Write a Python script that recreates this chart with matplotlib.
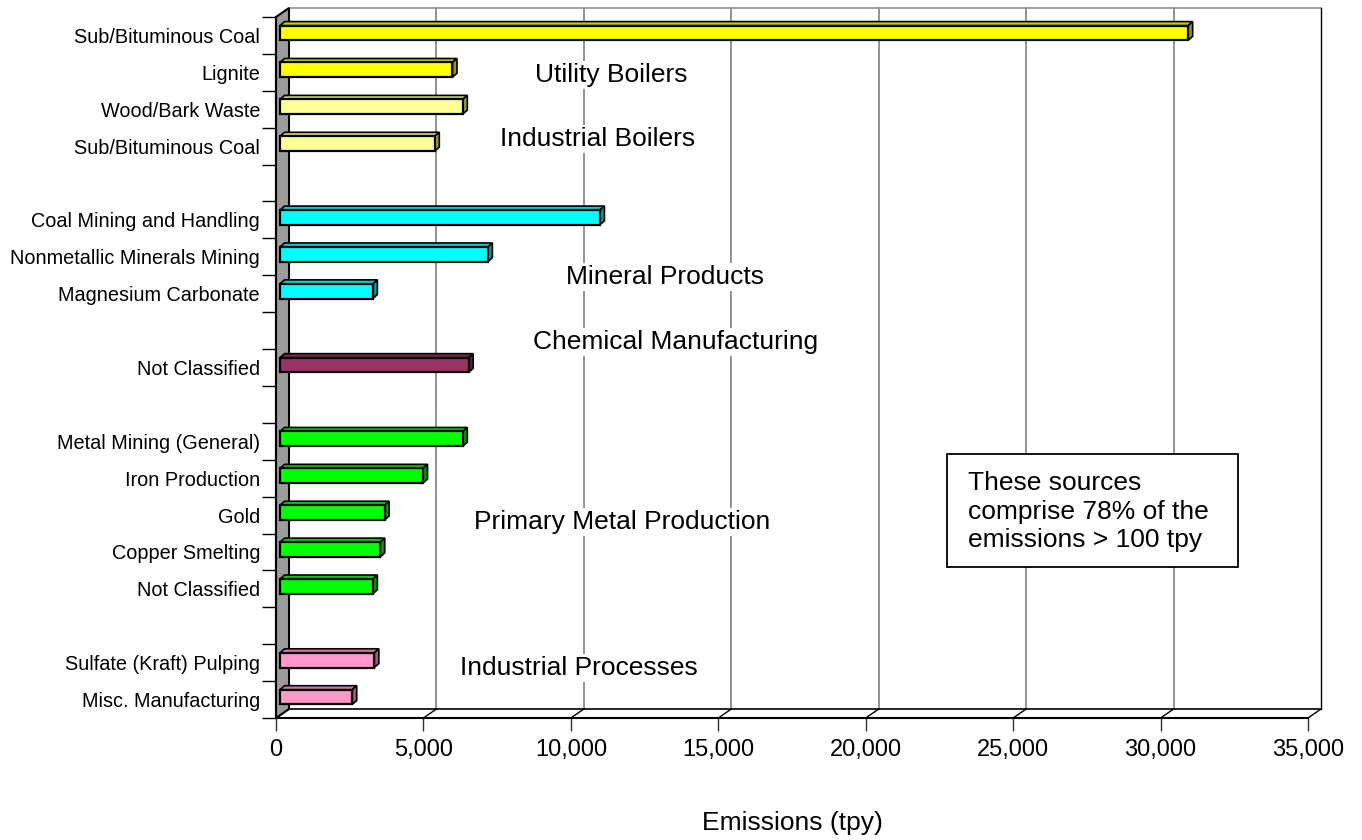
import matplotlib
matplotlib.use('Agg')
import matplotlib.pyplot as plt
from matplotlib.patches import Polygon, Rectangle
import matplotlib.colors as mcolors
import numpy as np

plt.rcParams['font.family'] = ['Liberation Sans', 'DejaVu Sans']

# ---------------- data ----------------
slot_labels = ["Sub/Bituminous Coal", "Lignite", "Wood/Bark Waste", "Sub/Bituminous Coal", "",
               "Coal Mining and Handling", "Nonmetallic Minerals Mining", "Magnesium Carbonate", "",
               "Not Classified", "",
               "Metal Mining (General)", "Iron Production", "Gold", "Copper Smelting", "Not Classified", "",
               "Sulfate (Kraft) Pulping", "Misc. Manufacturing"]
bar_slots = [0, 1, 2, 3, 5, 6, 7, 9, 11, 12, 13, 14, 15, 17, 18]
bar_values = [30800, 5850, 6200, 5250, 10850, 7050, 3150, 6400, 6200, 4850, 3550, 3400, 3150, 3200, 2450]
bar_colors = ["#FFFF00", "#FFFF00", "#FFFF99", "#FFFF99",
              "#00FFFF", "#00FFFF", "#00FFFF",
              "#993366",
              "#00FF00", "#00FF00", "#00FF00", "#00FF00", "#00FF00",
              "#FF99CC", "#FF99CC"]
x_ticks = [0, 5000, 10000, 15000, 20000, 25000, 30000, 35000]
group_names = ["Utility Boilers", "Industrial Boilers", "Mineral Products", "Chemical Manufacturing",
               "Primary Metal Production", "Industrial Processes"]
group_x = [11380, 10920, 13190, 13560, 11730, 10270]
group_y = [1.57, 3.31, 7.05, 8.80, 13.69, 17.64]
note_text = "These sources\ncomprise 78% of the\nemissions > 100 tpy"
x_title = "Emissions (tpy)"

# ---------------- geometry ----------------
FW, FH = 1362, 840
L, R, T, B = 276, 1308, 17, 718
XMAX = 35000
NS = len(slot_labels)

fig = plt.figure(figsize=(FW / 100, FH / 100), dpi=100)
ax = fig.add_axes([L / FW, (FH - B) / FH, (R - L) / FW, (B - T) / FH])
ax.set_xlim(0, XMAX)
ax.set_ylim(NS, 0)

ux = XMAX / (R - L)   # data units per pixel (x)
uy = NS / (B - T)     # slots per pixel (y)

WDX, WDY = 13 * ux, 9 * uy          # wall depth
BOX, BOY = 4 * ux, 2.5 * uy         # bar front offset
BDX, BDY = 4.5 * ux, 4.0 * uy       # bar depth
BH = 14.7 * uy                      # bar height

grid_c = "#808080"
# back plane gridlines
for t in x_ticks[1:-1]:
    ax.plot([t + WDX, t + WDX], [NS - WDY, -WDY], color=grid_c, lw=1.2, zorder=1, clip_on=False)
# back plane edges
ax.plot([WDX, XMAX + WDX], [-WDY, -WDY], color="#909090", lw=1.2, zorder=1, clip_on=False)
ax.plot([XMAX + WDX, XMAX + WDX], [-WDY, NS - WDY], color="black", lw=1.0, zorder=1, clip_on=False)
ax.plot([WDX, XMAX + WDX], [NS - WDY, NS - WDY], color="black", lw=1.2, zorder=1, clip_on=False)
# floor diagonals
for t in x_ticks:
    ax.plot([t, t + WDX], [NS, NS - WDY], color="black", lw=1.0, zorder=1, clip_on=False)
# wall
ax.add_patch(Polygon([(0, 0), (WDX, -WDY), (WDX, NS - WDY), (0, NS)], closed=True,
                     facecolor="#9C9C9C", edgecolor="black", lw=1.5, zorder=2, clip_on=False))

# bars
def shade(c, f):
    r, g, b = mcolors.to_rgb(c)
    return (r * f, g * f, b * f)

for s, v, c in zip(bar_slots, bar_values, bar_colors):
    yc = s + 0.5 - BOY
    top = yc - BH / 2
    ax.add_patch(Polygon([(BOX, top), (BOX + v, top), (BOX + v + BDX, top - BDY), (BOX + BDX, top - BDY)],
                         closed=True, facecolor=shade(c, 0.8), edgecolor="black", lw=1.2, zorder=3,
                         clip_on=False))
    ax.add_patch(Polygon([(BOX + v, top), (BOX + v + BDX, top - BDY), (BOX + v + BDX, top + BH - BDY),
                          (BOX + v, top + BH)],
                         closed=True, facecolor=shade(c, 0.6), edgecolor="black", lw=1.2, zorder=3,
                         clip_on=False))
    ax.barh(yc, v, left=BOX, height=BH, color=c, edgecolor="black", lw=1.6, zorder=4)

# group labels
for name, gx, gy in zip(group_names, group_x, group_y):
    ax.text(gx, gy, name, fontsize=19, ha="center", va="center", zorder=5,
            bbox=dict(facecolor="white", edgecolor="none", pad=1.5))

# note box
bx0, by0, bx1, by1 = 947, 454, 1238, 567
ax.add_patch(Rectangle(((bx0 - L) * ux, (by0 - T) * uy), (bx1 - bx0) * ux, (by1 - by0) * uy,
                       facecolor="white", edgecolor="black", lw=1.3, zorder=5, clip_on=False))
ax.text((968 - L) * ux, ((by0 + by1) / 2 - T + 1) * uy, note_text, fontsize=19, ha="left", va="center",
        linespacing=1.24, zorder=6)

# spines
for sp in ["top", "right"]:
    ax.spines[sp].set_visible(False)
ax.spines["left"].set_linewidth(1.5)
ax.spines["bottom"].set_linewidth(1.5)
ax.spines["left"].set_zorder(6)

# ticks
ax.set_xticks(x_ticks)
ax.set_xticklabels([f"{t:,}" for t in x_ticks], fontsize=17)
ax.tick_params(axis="x", which="major", length=9.4, width=1.0, pad=5.4, color="#333333")
ax.set_yticks(np.arange(NS + 1))
ax.set_yticklabels([])
ax.set_yticks(np.arange(NS) + 0.5, minor=True)
ax.set_yticklabels(slot_labels, minor=True, fontsize=14.3)
ax.tick_params(axis="y", which="major", length=10, width=1.0, color="black")
ax.tick_params(axis="y", which="minor", length=0, pad=11.5)

fig.text(792 / FW, (FH - 830) / FH, x_title, fontsize=19, ha="center", va="baseline")

fig.savefig("out.png", dpi=100)
